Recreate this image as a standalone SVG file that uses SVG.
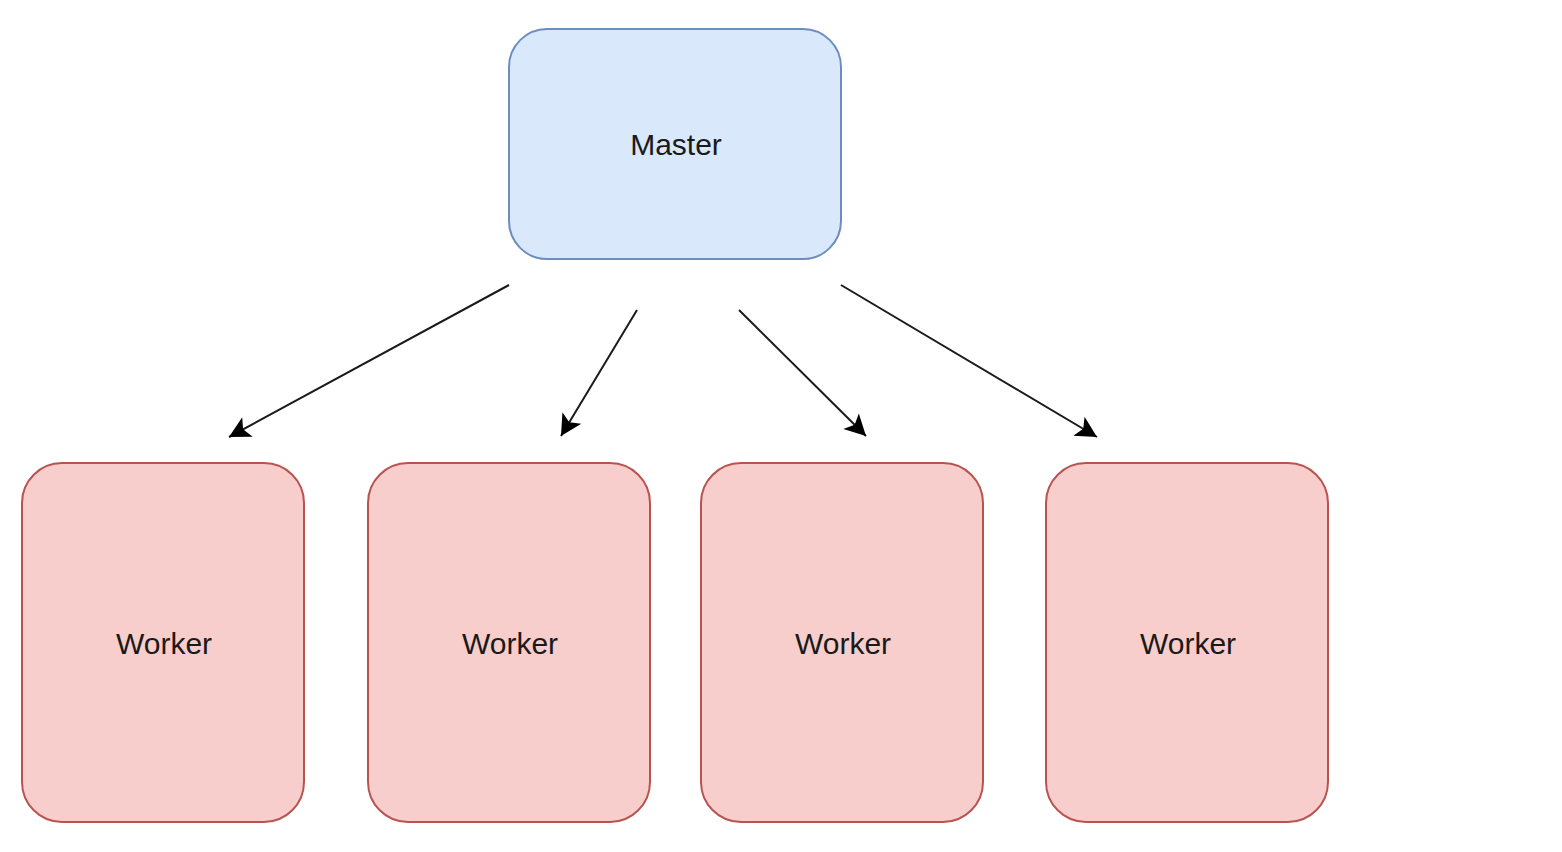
<svg xmlns="http://www.w3.org/2000/svg" width="1562" height="852" viewBox="0 0 1562 852">
<style>
.master{fill:#dae8fc;stroke:#6c8ebf;stroke-width:2}
.worker{fill:#f8cecc;stroke:#b85450;stroke-width:2}
.lbl{font-family:"Liberation Sans",Arial,sans-serif;font-size:30px;fill:#1a1a1a;text-anchor:middle}
.edge{stroke:#1a1a1a;stroke-width:2;fill:none;marker-end:url(#arr)}
</style>
<defs>
<marker id="arr" viewBox="0 0 10 10" refX="9" refY="5" markerWidth="10" markerHeight="10" markerUnits="userSpaceOnUse" orient="auto" overflow="visible">
<path d="M-12,-6 L9,5 L-12,16 L-7,5 Z" fill="#000" transform="translate(0,0)"/>
</marker>
</defs>
<rect width="1562" height="852" fill="#fff"/>
<g id="connectors">
<line class="edge" x1="509" y1="285" x2="229" y2="437"/>
<line class="edge" x1="637" y1="310" x2="561" y2="436"/>
<line class="edge" x1="739" y1="310" x2="866" y2="436"/>
<line class="edge" x1="841" y1="285" x2="1097" y2="437"/>
</g>
<g id="master"><rect class="master" x="509" y="29" width="332" height="230" rx="38"/><text class="lbl" x="676" y="155">Master</text></g>
<g id="worker1"><rect class="worker" x="22" y="463" width="282" height="359" rx="40"/><text class="lbl" x="164" y="654">Worker</text></g>
<g id="worker2"><rect class="worker" x="368" y="463" width="282" height="359" rx="40"/><text class="lbl" x="510" y="654">Worker</text></g>
<g id="worker3"><rect class="worker" x="701" y="463" width="282" height="359" rx="40"/><text class="lbl" x="843" y="654">Worker</text></g>
<g id="worker4"><rect class="worker" x="1046" y="463" width="282" height="359" rx="40"/><text class="lbl" x="1188" y="654">Worker</text></g>
</svg>
